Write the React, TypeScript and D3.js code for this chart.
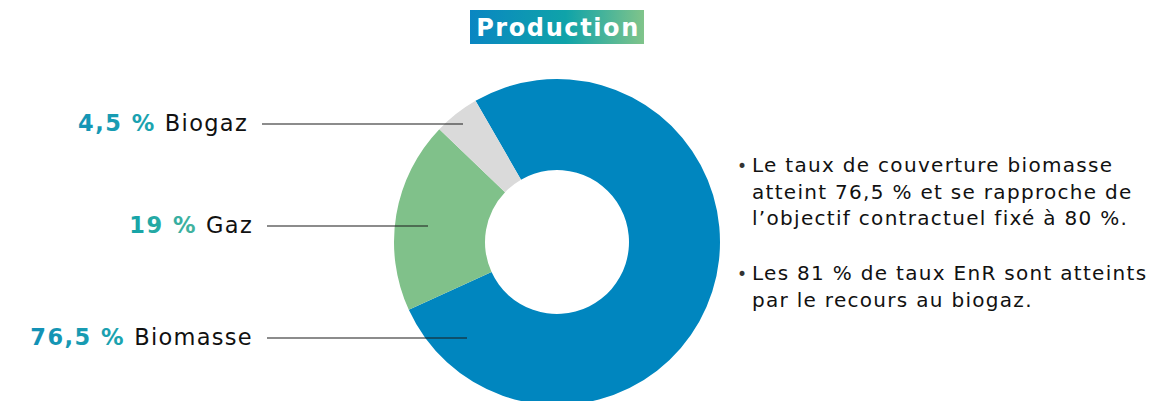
import * as d3 from 'd3';
import { useLayoutEffect, useRef, useState } from 'react';

const categories = ['Biomasse', 'Gaz', 'Biogaz'];
const values = [76.5, 19, 4.5];
const valueLabels = ['76,5 %', '19 %', '4,5 %'];
const colors = ['#0086BF', '#80C18A', '#DADADA'];
const pctColors = [
  ['#1290b6', '#1ca4ae'],
  ['#12a3a8', '#45b39e'],
  ['#1494b6', '#1ba5ae'],
];

const notes = [
  ['Le taux de couverture biomasse', 'atteint 76,5 % et se rapproche de', 'l\u2019objectif contractuel fixé à 80 %.'],
  ['Les 81 % de taux EnR sont atteints', 'par le recours au biogaz.'],
];

const W = 1173;
const H = 401;
const cx = 557;
const cy = 242;
const outerR = 163;
const innerR = 72;
const startDeg = -30;

// label rows: y of leader line, x where line starts / ends
const labelRows = [
  { y: 338, x0: 267, x1: 467 },
  { y: 226, x0: 267, x1: 428 },
  { y: 124, x0: 262, x1: 463 },
];

const FONT = '"DejaVu Sans", "Noto Sans", sans-serif';

export default function App() {
  const nameRefs = useRef<(SVGTextElement | null)[]>([]);
  const [nameW, setNameW] = useState<number[]>([0, 0, 0]);

  useLayoutEffect(() => {
    setNameW(nameRefs.current.map((el) => (el ? el.getBBox().width : 0)));
  }, []);

  const start = (startDeg * Math.PI) / 180;
  const pie = d3
    .pie<number>()
    .sort(null)
    .value((d) => d)
    .startAngle(start)
    .endAngle(start + 2 * Math.PI);
  const arcs = pie(values);
  const arc = d3.arc<d3.PieArcDatum<number>>().innerRadius(innerR).outerRadius(outerR);

  return (
    <svg
      width={W}
      height={H}
      style={{ position: 'absolute', left: 0, top: 0, background: '#fff' }}
      fontFamily={FONT}
    >
      <defs>
        <linearGradient id="titleGrad" x1="0" x2="1" y1="0" y2="0">
          <stop offset="0%" stopColor="#0a86c2" />
          <stop offset="55%" stopColor="#0fa3a9" />
          <stop offset="100%" stopColor="#80c48a" />
        </linearGradient>
        {pctColors.map((c, i) => (
          <linearGradient key={i} id={`pct${i}`} x1="0" x2="1" y1="0" y2="0">
            <stop offset="0%" stopColor={c[0]} />
            <stop offset="100%" stopColor={c[1]} />
          </linearGradient>
        ))}
      </defs>

      {/* title */}
      <rect x={470} y={10} width={174} height={34} fill="url(#titleGrad)" />
      <text
        x={cx + 1}
        y={36}
        textAnchor="middle"
        fill="#fff"
        fontWeight="bold"
        fontSize={24}
        letterSpacing={1.6}
      >
        Production
      </text>

      {/* donut */}
      <g transform={`translate(${cx},${cy})`}>
        {arcs.map((a, i) => (
          <path key={categories[i]} d={arc(a) ?? ''} fill={colors[i]} />
        ))}
      </g>

      {/* labels */}
      {categories.map((c, i) => {
        const row = labelRows[i];
        const nameEnd = row.x0 - 14;
        return (
          <g key={c}>
            <line x1={row.x0} x2={row.x1} y1={row.y} y2={row.y} stroke="#1a1a1a" strokeWidth={1.2} />
            <text
              ref={(el) => {
                nameRefs.current[i] = el;
              }}
              x={nameEnd}
              y={row.y + 7}
              textAnchor="end"
              fontSize={22.5}
              letterSpacing={1.3}
              fill="#111"
            >
              {c}
            </text>
            <text
              x={nameEnd - nameW[i] - 9}
              y={row.y + 7}
              textAnchor="end"
              fontSize={22.5}
              fontWeight="bold"
              letterSpacing={1.5}
              fill={`url(#pct${i})`}
            >
              {valueLabels[i]}
            </text>
          </g>
        );
      })}

      {/* notes */}
      {notes.map((lines, k) => {
        const baseY = k === 0 ? 172 : 280;
        return (
          <g key={k}>
            <text x={737} y={baseY} fontSize={17} fill="#333">
              •
            </text>
            {lines.map((ln, j) => (
              <text key={j} x={752} y={baseY + j * 26.5} fontSize={20} fill="#111" letterSpacing={1.3}>
                {ln}
              </text>
            ))}
          </g>
        );
      })}
    </svg>
  );
}
